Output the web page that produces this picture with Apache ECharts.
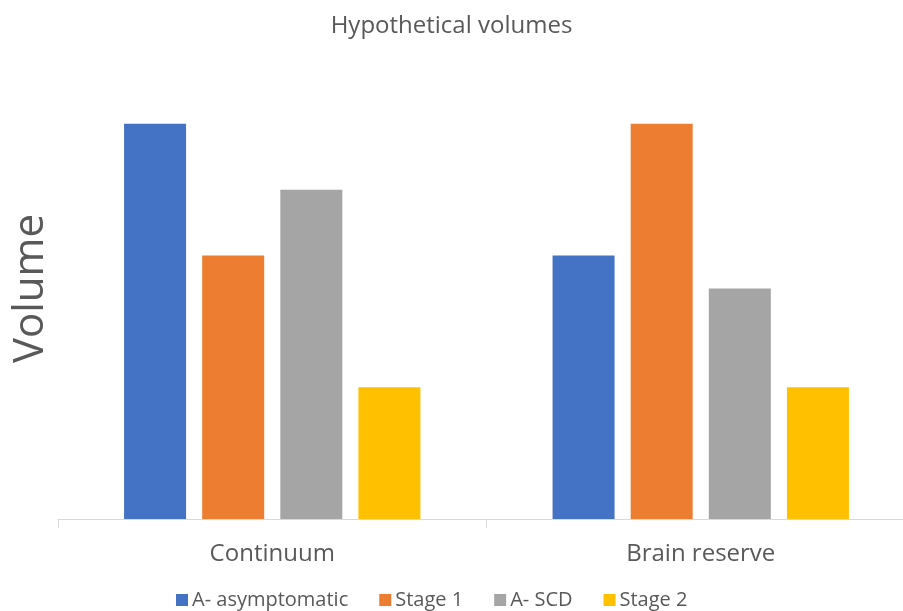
<!DOCTYPE html>
<html>
<head>
<meta charset="utf-8">
<script src="https://cdn.jsdelivr.net/npm/echarts@6/dist/echarts.min.js"></script>
<style>html,body{margin:0;padding:0;background:#fff}#c{width:903px;height:611px}</style>
</head>
<body>
<div id="c"></div>
<script>
const categories = ['Continuum', 'Brain reserve'];
const seriesNames = ['A- asymptomatic', 'Stage 1', 'A- SCD', 'Stage 2'];
const asymptomatic = [6, 4];
const stage1 = [4, 6];
const scd = [5, 3.5];
const stage2 = [2, 2];
const colors = ['#4472C4', '#ED7D31', '#A5A5A5', '#FFC000'];
const values = [asymptomatic, stage1, scd, stage2];

const FONT = 'Open Sans';
const TXT = '#595959';
const chart = echarts.init(document.getElementById('c'), null, {renderer: 'canvas'});
chart.setOption({
  animation: false,
  title: {
    text: 'Hypothetical volumes', left: 'center', top: 9,
    textStyle: {fontFamily: FONT, fontSize: 24, fontWeight: 'normal', color: TXT}
  },
  legend: {
    bottom: -4, left: 171, itemWidth: 12, itemHeight: 12, itemGap: 31,
    icon: 'rect',
    textStyle: {fontFamily: FONT, fontSize: 20, color: TXT, padding: [0, 0, 0, -1]},
    data: seriesNames
  },
  grid: {left: 58, right: -12, top: 58, bottom: 92, outerBoundsMode: 'none', containLabel: false},
  xAxis: {
    type: 'category', data: categories,
    axisLine: {lineStyle: {color: '#D9D9D9', width: 1}},
    axisTick: {show: true, length: 9, lineStyle: {color: '#D9D9D9'}},
    axisLabel: {fontFamily: FONT, fontSize: 24, color: TXT, margin: 23}
  },
  yAxis: {
    type: 'value', min: 0, max: 7, interval: 1,
    axisLine: {show: false}, axisTick: {show: false}, axisLabel: {show: false},
    splitLine: {show: false},
    name: 'Volume', nameLocation: 'middle', nameRotate: 90, nameGap: 6,
    nameTextStyle: {fontFamily: FONT, fontSize: 42, color: TXT}
  },
  series: seriesNames.map((n, i) => ({
    name: n, type: 'bar', data: values[i], barWidth: 62, barGap: '26%',
    itemStyle: {color: colors[i]}
  }))
});
</script>
</body>
</html>
